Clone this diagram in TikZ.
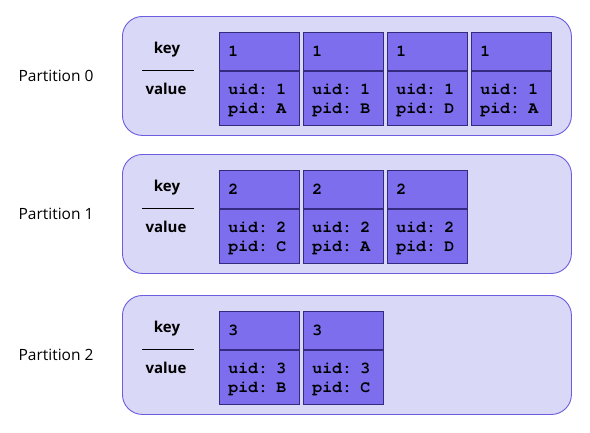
\documentclass[tikz,border=0pt]{standalone}
\usepackage{fontspec}
\setmainfont{Open Sans}
\setmonofont{TeX Gyre Cursor}
\usetikzlibrary{positioning}

\definecolor{partfill}{RGB}{218,216,247}
\definecolor{partdraw}{RGB}{108,92,222}
\definecolor{cellfill}{RGB}{124,110,236}
\definecolor{celldraw}{RGB}{52,42,128}

\begin{document}
\begin{tikzpicture}[
  x=1pt, y=-1pt,
  part/.style={draw=partdraw, fill=partfill, line width=0.9pt, rounded corners=20pt, minimum width=449pt, minimum height=119pt, anchor=north west},
  partname/.style={font=\fontsize{15.5}{18}\selectfont, anchor=east},
  fieldname/.style={font=\fontsize{15}{18}\selectfont\bfseries},
  keycell/.style={draw=celldraw, fill=cellfill, line width=0.8pt, minimum height=38pt, text width=62pt, inner xsep=9pt, inner ysep=0pt, align=left, font=\fontsize{16.5}{19}\selectfont\ttfamily\bfseries, anchor=north west},
  valcell/.style={keycell, minimum height=54pt},
]
  \useasboundingbox (0,0) rectangle (590,432);

  % one row per partition: index / top edge / pid values
  \foreach \p/\top/\pids in {0/16/{A,B,D,A}, 1/154/{C,A,D}, 2/295/{B,C}} {
    \pgfmathtruncatemacro{\k}{\p+1}
    \node[part] (part\p) at (122,\top) {};
    \node[partname, left=25pt of part\p.west] (pname\p) {Partition \p};

    % key / value legend
    \node[fieldname] (key\p) at (167,\top+34) {key};
    \node[fieldname] (value\p) at (166,\top+73) {value};
    \draw[line width=1pt] (142,\top+54) -- (194,\top+54);

    % records
    \foreach \pid [count=\c] in \pids {
      \node[keycell] (k\p-\c) at (219+84*\c-84,\top+16) {\k};
      \node[valcell, below=0pt of k\p-\c] (v\p-\c) {\rule{0pt}{15pt}uid: \k\\pid: \pid};
    }
  }
\end{tikzpicture}
\end{document}
